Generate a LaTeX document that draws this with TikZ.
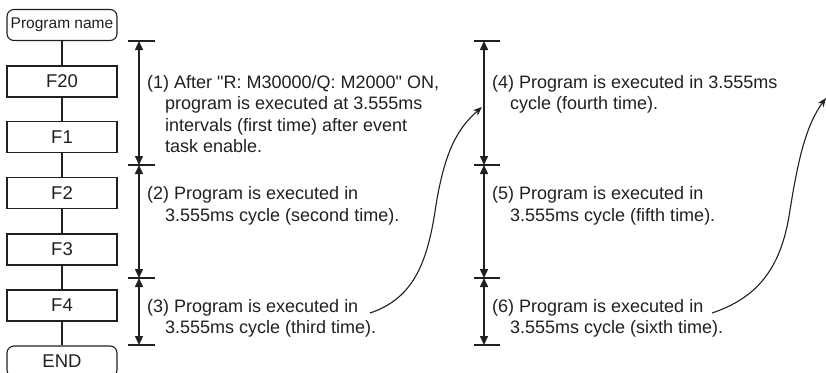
\documentclass[tikz,border=0pt]{standalone}
\usepackage{fontspec}
\setmainfont{Liberation Sans}
\newfontfamily\qfont{Liberation Sans}
\usetikzlibrary{arrows.meta}
\definecolor{ink}{HTML}{231F20}
\newcommand{\dq}{{\qfont"}}
\begin{document}
\begin{tikzpicture}[x=1pt,y=-1pt,
  box/.style={draw=ink, line width=1.1pt, minimum width=110pt, minimum height=31pt, inner sep=0pt, text=ink, font=\fontsize{18.5}{20}\selectfont},
  term/.style={box, rounded corners=7pt},
  link/.style={draw=ink, line width=1.4pt},
  tick/.style={draw=ink, line width=1.5pt},
  dim/.style={draw=ink, line width=1.5pt, {Triangle[length=9pt,width=8pt]}-{Triangle[length=9pt,width=8pt]}},
  note/.style={anchor=north west, inner sep=0pt, align=left, text=ink, font=\fontsize{18}{21.5}\selectfont},
  curv/.style={draw=ink, line width=1.1pt, -{Stealth[length=9pt,width=7pt]}}
]
\useasboundingbox (0,0) rectangle (826,372);
% flow chart
\node[term, font=\fontsize{15.5}{17}\selectfont] (pn) at (62,25) {Program name};
\node[box] (f20) at (62,81.5) {F20};
\node[box] (f1) at (62,137) {F1};
\node[box] (f2) at (62,193) {F2};
\node[box] (f3) at (62,249.5) {F3};
\node[box] (f4) at (62,305.5) {F4};
\node[term] (fend) at (62,361.5) {END};
\draw[link] (pn) -- (f20);
\draw[link] (f20) -- (f1);
\draw[link] (f1) -- (f2);
\draw[link] (f2) -- (f3);
\draw[link] (f3) -- (f4);
\draw[link] (f4) -- (fend);
% dimension column 1
\coordinate (a0) at (139,41);
\coordinate (a1) at (139,165);
\coordinate (a2) at (139,278);
\coordinate (a3) at (139,345);
\foreach \c in {a0,a1,a2,a3} \draw[tick] ([xshift=-11pt]\c) -- ([xshift=16pt]\c);
\draw[dim] (a0) -- (a1);
\draw[dim] (a1) -- (a2);
\draw[dim] (a2) -- (a3);
% dimension column 2
\coordinate (b0) at (484,41);
\coordinate (b1) at (484,165);
\coordinate (b2) at (484,278);
\coordinate (b3) at (484,345);
\foreach \c in {b0,b1,b2,b3} \draw[tick] ([xshift=-10pt]\c) -- ([xshift=16pt]\c);
\draw[dim] (b0) -- (b1);
\draw[dim] (b1) -- (b2);
\draw[dim] (b2) -- (b3);
% texts
\node[note] (t1) at (147,75) {(1) After \dq R: M30000/Q: M2000\dq{} ON,\\\hspace*{18pt}program is executed at 3.555ms\\\hspace*{18pt}intervals (first time) after event\\\hspace*{18pt}task enable.};
\node[note] (t2) at (147,186.5) {(2) Program is executed in\\\hspace*{18pt}3.555ms cycle (second time).};
\node[note] (t3) at (147,299) {(3) Program is executed in\\\hspace*{18pt}3.555ms cycle (third time).};
\node[note] (t4) at (492,75) {(4) Program is executed in 3.555ms\\\hspace*{18pt}cycle (fourth time).};
\node[note] (t5) at (492,186.5) {(5) Program is executed in\\\hspace*{18pt}3.555ms cycle (fifth time).};
\node[note] (t6) at (492,299) {(6) Program is executed in\\\hspace*{18pt}3.555ms cycle (sixth time).};
% curves
\coordinate (c1s) at (370,313);
\coordinate (c1m) at (436,205);
\coordinate (c1e) at (482,107);
\draw[curv] (c1s) .. controls (415,298) and (428,260) .. (c1m) .. controls (445,150) and (458,128) .. (c1e);
\coordinate (c2s) at (712,313);
\coordinate (c2m) at (790,210);
\coordinate (c2e) at (826,98);
\draw[curv] (c2s) .. controls (760,297) and (782,265) .. (c2m) .. controls (798,160) and (806,125) .. (c2e);
\end{tikzpicture}
\end{document}
